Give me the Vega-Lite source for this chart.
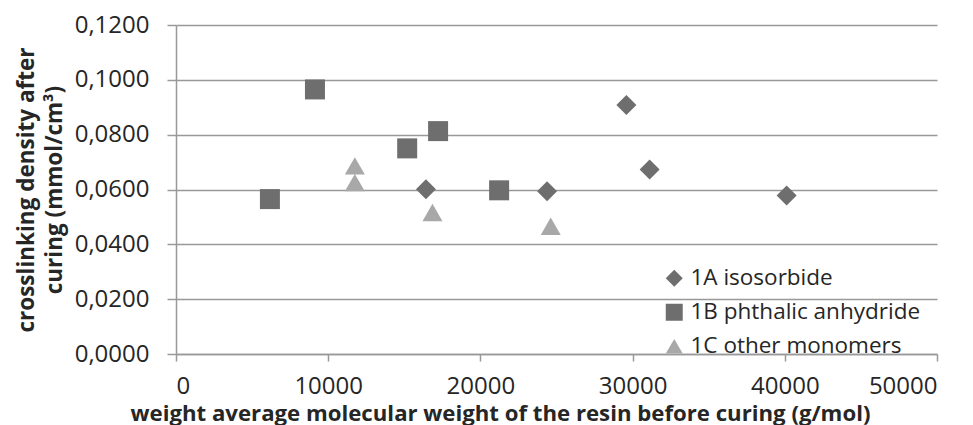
{
  "$schema": "https://vega.github.io/schema/vega-lite/v6.json",
  "width": 761,
  "height": 329,
  "autosize": "none",
  "padding": {"left": 176, "top": 25, "right": 36, "bottom": 71},
  "background": "white",
  "config": {"view": {"stroke": null}, "font": "Open Sans"},
  "data": {
    "values": [
      {"series": "1A isosorbide", "mw": 16420, "density": 0.0601},
      {"series": "1A isosorbide", "mw": 24380, "density": 0.0594},
      {"series": "1A isosorbide", "mw": 29590, "density": 0.0908},
      {"series": "1A isosorbide", "mw": 31120, "density": 0.0673},
      {"series": "1A isosorbide", "mw": 40120, "density": 0.0578},
      {"series": "1B phthalic anhydride", "mw": 6170, "density": 0.0565},
      {"series": "1B phthalic anhydride", "mw": 9130, "density": 0.0965},
      {"series": "1B phthalic anhydride", "mw": 15190, "density": 0.0750},
      {"series": "1B phthalic anhydride", "mw": 17220, "density": 0.0813},
      {"series": "1B phthalic anhydride", "mw": 21230, "density": 0.0597},
      {"series": "1C other monomers", "mw": 11750, "density": 0.0686},
      {"series": "1C other monomers", "mw": 11750, "density": 0.0625},
      {"series": "1C other monomers", "mw": 16850, "density": 0.0516},
      {"series": "1C other monomers", "mw": 24620, "density": 0.0466}
    ]
  },
  "mark": {"type": "point", "filled": true, "opacity": 1, "size": 400},
  "encoding": {
    "x": {
      "field": "mw",
      "type": "quantitative",
      "scale": {"domain": [0, 50000], "nice": false},
      "axis": {
        "values": [0, 10000, 20000, 30000, 40000, 50000],
        "format": "d",
        "grid": false,
        "domainColor": "#999999",
        "domainWidth": 1.5,
        "tickColor": "#999999",
        "tickWidth": 1.5,
        "tickSize": 7,
        "labelFontSize": 24,
        "labelColor": "#262626",
        "labelPadding": 13,
        "title": "weight average molecular weight of the resin before curing (g/mol)",
        "titleFontSize": 22.2,
        "titleFontWeight": "bold",
        "titleColor": "#262626",
        "titlePadding": 4,
        "titleX": 324
      }
    },
    "y": {
      "field": "density",
      "type": "quantitative",
      "scale": {"domain": [0, 0.12], "nice": false},
      "axis": {
        "values": [0, 0.02, 0.04, 0.06, 0.08, 0.1, 0.12],
        "labelExpr": "replace(format(datum.value, '.4f'), '.', ',')",
        "grid": true,
        "gridColor": "#999999",
        "gridWidth": 1.5,
        "domainColor": "#999999",
        "domainWidth": 1.5,
        "tickColor": "#999999",
        "tickWidth": 1.5,
        "tickSize": 9,
        "labelFontSize": 24,
        "labelColor": "#262626",
        "labelPadding": 18,
        "title": ["crosslinking density after", "curing (mmol/cm³)"],
        "titleFontSize": 22.5,
        "titleFontWeight": "bold",
        "titleColor": "#262626",
        "titlePadding": 8,
        "titleLineHeight": 28
      }
    },
    "shape": {
      "field": "series",
      "type": "nominal",
      "scale": {
        "domain": ["1A isosorbide", "1B phthalic anhydride", "1C other monomers"],
        "range": ["diamond", "square", "triangle-up"]
      },
      "legend": {
        "orient": "none",
        "legendX": 487,
        "legendY": 242,
        "title": null,
        "padding": 0,
        "symbolSize": 289,
        "labelFontSize": 22.5,
        "labelLimit": 400,
        "labelColor": "#262626",
        "labelOffset": 5,
        "rowPadding": 11,
        "symbolStrokeWidth": 0
      }
    },
    "color": {
      "field": "series",
      "type": "nominal",
      "scale": {
        "domain": ["1A isosorbide", "1B phthalic anhydride", "1C other monomers"],
        "range": ["#6e6e6e", "#6e6e6e", "#a8a8a8"]
      },
      "legend": {
        "orient": "none",
        "legendX": 487,
        "legendY": 242,
        "title": null,
        "padding": 0,
        "symbolSize": 289,
        "labelFontSize": 22.5,
        "labelLimit": 400,
        "labelColor": "#262626",
        "labelOffset": 5,
        "rowPadding": 11,
        "symbolStrokeWidth": 0
      }
    }
  }
}
